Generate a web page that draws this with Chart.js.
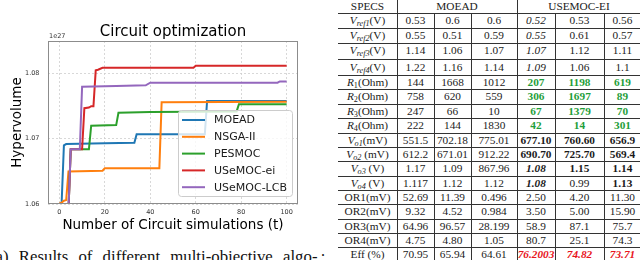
<!DOCTYPE html>
<html>
<head>
<meta charset="utf-8">
<script src="https://cdn.jsdelivr.net/npm/chart.js@4.4.0/dist/chart.umd.min.js"></script>
<style>
  body { margin: 0; width: 640px; height: 260px; overflow: hidden; background: #fff; position: relative; font-family: "Liberation Serif", serif; }
  #wrap { position: absolute; left: 0; top: 0; width: 320px; height: 245px; }
  .cell { position: absolute; text-align: center; font-size: 11.3px; white-space: nowrap; color: #1a1a1a; }
  .cell sub { font-size: 8.2px; vertical-align: -1.5px; line-height: 0; }
  .hl { position: absolute; height: 1px; background: #333; }
  .vl { position: absolute; width: 1px; background: #333; }
  .g { color: #1f9e3a; font-weight: bold; }
  .b { font-weight: bold; }
  .i { font-style: italic; }
  .bi { font-weight: bold; font-style: italic; }
  .r { color: #e8141c; font-weight: bold; font-style: italic; }
  #cap { position: absolute; left: -10px; top: 247px; font-size: 16.8px; white-space: nowrap; word-spacing: 6px; color: #111; }
  #dot { position: absolute; left: 321px; top: 242px; font-size: 16px; color: #111; }
</style>
</head>
<body>
<div id="wrap"><canvas id="c" width="320" height="245"></canvas></div>
<div id="tbl"></div>
<div id="cap">(a) Results of different multi-objective algo-</div>
<div id="dot">.</div>
<script>
// hypervolume curves (units of 1e27), t = number of circuit simulations
const seriesNames = ['MOEAD', 'NSGA-II', 'PESMOC', 'USeMOC-ei', 'USeMOC-LCB'];
const seriesColors = ['#1f77b4', '#ff7f0e', '#2ca02c', '#d62728', '#9467bd'];

const moeadT  = [0, 1, 2, 3, 20, 33, 34, 64, 65, 100];
const moeadHV = [1.0600, 1.0602, 1.0690, 1.0692, 1.0693, 1.0694, 1.0707, 1.0707, 1.0758, 1.0758];
const nsgaT   = [0, 1, 2, 3, 4, 19, 20, 44, 45, 100];
const nsgaHV  = [1.0601, 1.0602, 1.0605, 1.0606, 1.0650, 1.0651, 1.0655, 1.0655, 1.0756, 1.0757];
const pesmocT  = [4, 5, 13, 14, 25, 26, 40, 78, 79, 100];
const pesmocHV = [1.0590, 1.0684, 1.0684, 1.0720, 1.0721, 1.0740, 1.0741, 1.0742, 1.0753, 1.0753];
const eiT  = [4, 5, 10, 11, 13, 14, 15, 16, 17, 19, 59, 60, 100];
const eiHV = [1.0590, 1.0684, 1.0684, 1.0747, 1.0748, 1.0750, 1.0750, 1.0805, 1.0806, 1.0809, 1.0809, 1.0812, 1.0812];
const lcbT  = [4, 5, 9, 10, 25, 38, 40, 96, 97, 100];
const lcbHV = [1.0590, 1.0684, 1.0684, 1.0780, 1.0781, 1.0782, 1.0786, 1.0786, 1.0788, 1.0788];

const xTicks = [0, 20, 40, 60, 80, 100];
const yTicks = [1.06, 1.07, 1.08];

// table on the right
const specRows = [
  '<i>V<sub>ref1</sub></i>(V)', '<i>V<sub>ref2</sub></i>(V)', '<i>V<sub>ref3</sub></i>(V)', '<i>V<sub>ref4</sub></i>(V)',
  '<i>R</i><sub>1</sub>(Ohm)', '<i>R</i><sub>2</sub>(Ohm)', '<i>R</i><sub>3</sub>(Ohm)', '<i>R</i><sub>4</sub>(Ohm)',
  '<i>V<sub>o1</sub></i>(mV)', '<i>V<sub>o2</sub></i> (mV)', '<i>V<sub>o3</sub></i> (V)', '<i>V<sub>o4</sub></i> (V)',
  'OR1(mV)', 'OR2(mV)', 'OR3(mV)', 'OR4(mV)', 'Eff (%)'
];
const moeadVals = [
  ['0.53', '0.6', '0.6'], ['0.55', '0.51', '0.59'], ['1.14', '1.06', '1.07'], ['1.22', '1.16', '1.14'],
  ['144', '1668', '1012'], ['758', '620', '559'], ['247', '66', '10'], ['222', '144', '1830'],
  ['551.5', '702.18', '775.01'], ['612.2', '671.01', '912.22'], ['1.17', '1.09', '867.96'], ['1.117', '1.12', '1.12'],
  ['52.69', '11.39', '0.496'], ['9.32', '4.52', '0.984'], ['64.96', '96.57', '28.199'], ['4.75', '4.80', '1.05'],
  ['70.95', '65.94', '64.61']
];
const usemocVals = [
  ['0.52', '0.53', '0.56'], ['0.55', '0.61', '0.57'], ['1.07', '1.12', '1.11'], ['1.09', '1.06', '1.1'],
  ['207', '1198', '619'], ['306', '1697', '89'], ['67', '1379', '70'], ['42', '14', '301'],
  ['677.10', '760.60', '656.9'], ['690.70', '725.70', '569.4'], ['1.08', '1.15', '1.14'], ['1.08', '0.99', '1.13'],
  ['2.50', '4.20', '11.30'], ['3.50', '5.00', '15.90'], ['58.9', '87.1', '75.7'], ['80.7', '25.1', '74.3'],
  ['76.2003', '74.82', '73.71']
];
const usemocStyle = [
  ['i', '', ''], ['i', '', ''], ['i', '', ''], ['i', '', ''],
  ['g', 'g', 'g'], ['g', 'g', 'g'], ['g', 'g', 'g'], ['g', 'g', 'g'],
  ['b', 'b', 'b'], ['b', 'b', 'b'], ['bi', 'b', 'b'], ['bi', '', 'b'],
  ['', '', ''], ['', '', ''], ['', '', ''], ['', '', ''],
  ['r', 'r', 'r']
];

const colEdges = [338, 397, 434, 471, 517, 555, 604, 641];
const rowEdges = [0, 13.3, 28, 43.3, 59, 75, 89.3, 104, 118.3, 132.7, 147, 161.3, 175.6, 190, 204.3, 218.6, 233, 247.3, 261.6];

const tbl = document.getElementById('tbl');
function cell(x0, x1, y0, y1, html, cls) {
  const d = document.createElement('div');
  d.className = 'cell ' + (cls || '');
  d.style.left = x0 + 'px';
  d.style.width = (x1 - x0) + 'px';
  d.style.top = y0 + 'px';
  d.style.height = (y1 - y0) + 'px';
  d.style.lineHeight = (y1 - y0) + 'px';
  d.innerHTML = html;
  tbl.appendChild(d);
}
function line(cls, x, y, len) {
  const d = document.createElement('div');
  d.className = cls;
  d.style.left = x + 'px';
  d.style.top = y + 'px';
  if (cls == 'hl') d.style.width = len + 'px'; else d.style.height = len + 'px';
  tbl.appendChild(d);
}

cell(colEdges[0], colEdges[1], rowEdges[0], rowEdges[1], 'SPECS');
cell(colEdges[1], colEdges[4], rowEdges[0], rowEdges[1], 'MOEAD');
cell(colEdges[4], colEdges[7], rowEdges[0], rowEdges[1], 'USEMOC-EI');
for (let r = 0; r < specRows.length; r++) {
  const y0 = rowEdges[r + 1], y1 = rowEdges[r + 2];
  cell(colEdges[0], colEdges[1], y0, y1, specRows[r]);
  for (let c = 0; c < 3; c++) {
    cell(colEdges[c + 1], colEdges[c + 2], y0, y1, moeadVals[r][c]);
    cell(colEdges[c + 4], colEdges[c + 5], y0, y1, usemocVals[r][c], usemocStyle[r][c]);
  }
}
for (let r = 1; r < rowEdges.length; r++) {
  line('hl', colEdges[0], Math.round(rowEdges[r]), 302);
}
line('vl', colEdges[1], 0, 262);
line('vl', colEdges[4], 0, 262);
[2, 3, 5, 6].forEach(function(c) { line('vl', colEdges[c], Math.round(rowEdges[1]), 262); });

// chart
Chart.defaults.font.family = "'DejaVu Sans', sans-serif";

const curves = [[moeadT, moeadHV], [nsgaT, nsgaHV], [pesmocT, pesmocHV], [eiT, eiHV], [lcbT, lcbHV]];
const datasets = curves.map(function(s, i) {
  return {
    label: seriesNames[i],
    data: s[0].map(function(t, j) { return {x: t, y: s[1][j]}; }),
    borderColor: seriesColors[i],
    backgroundColor: seriesColors[i],
    borderWidth: 2,
    pointRadius: 0,
    tension: 0,
    fill: false,
    order: 5 - i
  };
});

const decor = {
  id: 'decor',
  afterDraw(chart) {
    const ctx = chart.ctx, a = chart.chartArea;
    ctx.save();
    // frame
    ctx.strokeStyle = '#8c8c8c';
    ctx.lineWidth = 1;
    ctx.strokeRect(a.left + 0.5, a.top + 0.5, a.right - a.left - 1, a.bottom - a.top - 1);
    // legend
    const bx = a.right - 120, by = a.bottom - 94, bw = 114, bh = 86;
    ctx.fillStyle = 'rgba(255,255,255,0.8)';
    ctx.strokeStyle = '#cccccc';
    ctx.beginPath();
    ctx.roundRect(bx + 0.5, by + 0.5, bw, bh, 3);
    ctx.fill();
    ctx.stroke();
    ctx.font = "11px 'DejaVu Sans'";
    ctx.textBaseline = 'middle';
    seriesNames.forEach(function(n, i) {
      const y = by + 10 + i * 16.8;
      ctx.strokeStyle = seriesColors[i];
      ctx.lineWidth = 2;
      ctx.beginPath();
      ctx.moveTo(bx + 4, y);
      ctx.lineTo(bx + 27, y);
      ctx.stroke();
      ctx.fillStyle = '#1a1a1a';
      ctx.fillText(n, bx + 36, y + 0.5);
    });
    // title + offset text
    ctx.fillStyle = '#000';
    ctx.textAlign = 'center';
    ctx.font = "15px 'DejaVu Sans'";
    ctx.fillText('Circuit optimization', (a.left + a.right) / 2, 32);
    ctx.textAlign = 'left';
    ctx.fillStyle = '#333';
    ctx.font = "6.5px 'DejaVu Sans'";
    ctx.fillText('1e27', a.left + 1, a.top - 5);
    ctx.restore();
  }
};

new Chart(document.getElementById('c').getContext('2d'), {
  type: 'line',
  data: {datasets: datasets},
  options: {
    responsive: false,
    animation: false,
    layout: {padding: {left: 0, right: 22, top: 41, bottom: 0}},
    plugins: {legend: {display: false}, title: {display: false}, tooltip: {enabled: false}},
    scales: {
      x: {
        type: 'linear', min: -5, max: 105,
        afterBuildTicks: function(s) { s.ticks = xTicks.map(function(v) { return {value: v}; }); },
        afterFit: function(s) { s.height = 41; },
        grid: {color: '#cfcfcf', lineWidth: 0.8, drawTicks: false},
        border: {display: false, dash: [2, 2]},
        ticks: {font: {size: 6.5}, color: '#333', padding: 4, maxRotation: 0},
        title: {display: true, text: 'Number of Circuit simulations (t)', font: {size: 13.5}, color: '#000', padding: {top: 0, bottom: 11}}
      },
      y: {
        min: 1.06, max: 1.085,
        afterBuildTicks: function(s) { s.ticks = yTicks.map(function(v) { return {value: v}; }); },
        afterFit: function(s) { s.width = 48; },
        grid: {color: '#cfcfcf', lineWidth: 0.8, drawTicks: false},
        border: {display: false, dash: [2, 2]},
        ticks: {font: {size: 6.5}, color: '#333', padding: 8.5, callback: function(v) { return v.toFixed(2); }},
        title: {display: true, text: 'Hypervolume', font: {size: 13.5}, color: '#000', padding: {top: 9, bottom: 0}}
      }
    }
  },
  plugins: [decor]
});
</script>
</body>
</html>
